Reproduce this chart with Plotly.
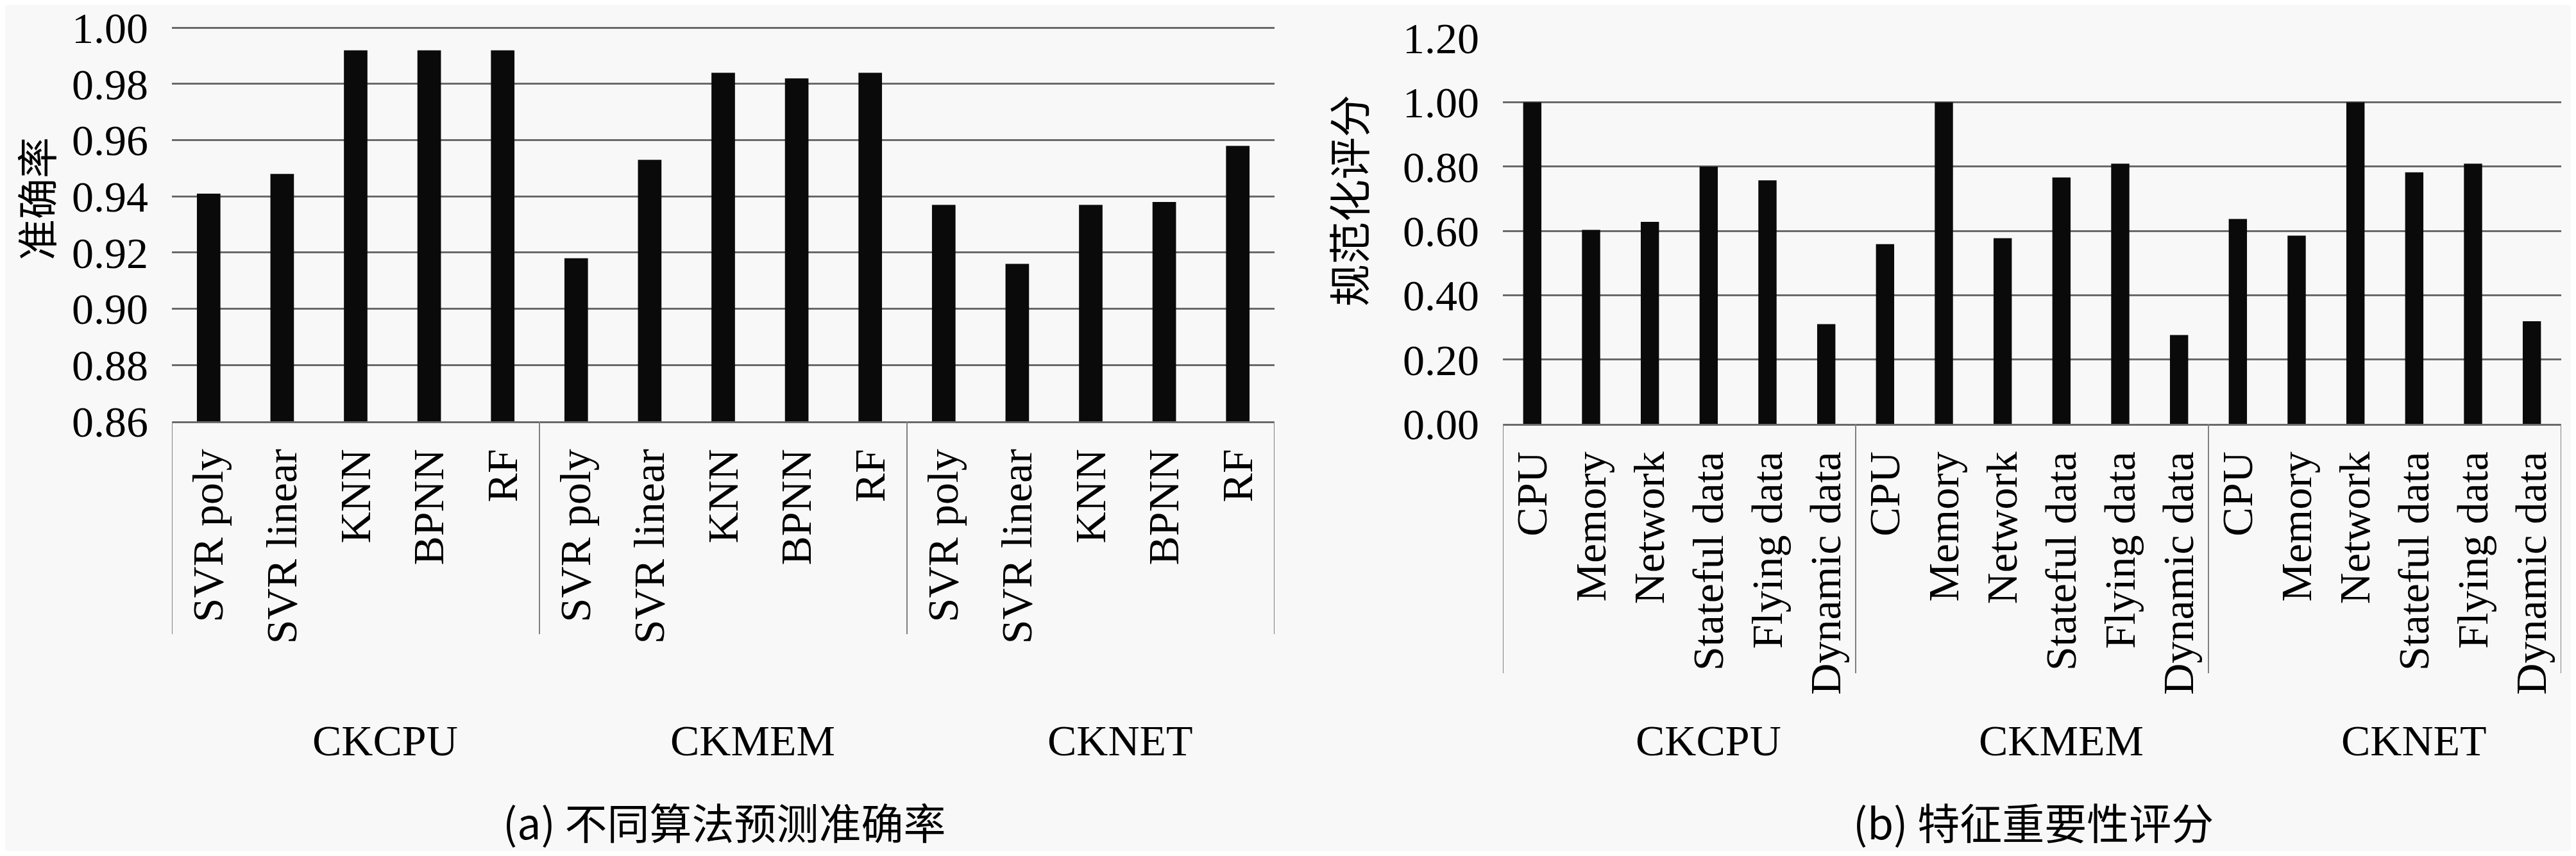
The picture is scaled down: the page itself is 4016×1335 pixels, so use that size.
import plotly.graph_objects as go

# (a) prediction accuracy per algorithm, grouped by checkpoint type
groups = ["CKCPU", "CKMEM", "CKNET"]
algorithms = ["SVR poly", "SVR linear", "KNN", "BPNN", "RF"]
acc_ckcpu = [0.941, 0.948, 0.992, 0.992, 0.992]
acc_ckmem = [0.918, 0.953, 0.984, 0.982, 0.984]
acc_cknet = [0.937, 0.916, 0.937, 0.938, 0.958]

# (b) normalized feature importance scores
features = ["CPU", "Memory", "Network", "Stateful data", "Flying data", "Dynamic data"]
imp_ckcpu = [1.00, 0.603, 0.628, 0.800, 0.757, 0.310]
imp_ckmem = [0.559, 1.00, 0.577, 0.766, 0.809, 0.276]
imp_cknet = [0.637, 0.585, 1.00, 0.782, 0.809, 0.319]

acc_ticks = [0.86, 0.88, 0.90, 0.92, 0.94, 0.96, 0.98, 1.00]
imp_ticks = [0.0, 0.2, 0.4, 0.6, 0.8, 1.0, 1.2]

BG = "#f8f8f8"
GRID = "#6a6a6a"
LATIN = "Liberation Serif, Noto Sans CJK SC, serif"
CJK = "Noto Sans CJK SC, Liberation Serif, sans-serif"
FS = 68

# page body has an 8px margin, so the figure is a bit smaller than the window
W, H, OFF = 4000, 1319, 8


def px(x):
    return (x - OFF) / W


def py(y):
    return 1 - (y - OFF) / H


acc_values = acc_ckcpu + acc_ckmem + acc_cknet
acc_labels = algorithms * len(groups)
imp_values = imp_ckcpu + imp_ckmem + imp_cknet
imp_labels = features * len(groups)

fig = go.Figure()
fig.add_trace(go.Bar(
    x=list(range(len(acc_values))), y=acc_values, width=0.32,
    marker={"color": "#0a0a0a", "line": {"width": 0}},
    xaxis="x", yaxis="y", showlegend=False,
))
fig.add_trace(go.Bar(
    x=list(range(len(imp_values))), y=imp_values, width=0.31,
    marker={"color": "#0a0a0a", "line": {"width": 0}},
    xaxis="x2", yaxis="y2", showlegend=False,
))

xcommon = dict(
    tickangle=-90, showgrid=False, zeroline=False, automargin=False,
    showline=True, linecolor=GRID, linewidth=3,
    ticks="", ticklabelstandoff=13, ticklabeloverflow="allow",
    tickfont={"family": LATIN, "size": FS, "color": "black"},
)
ycommon = dict(
    showgrid=True, gridcolor=GRID, gridwidth=3, zeroline=False,
    automargin=False, showline=False, ticks="", ticklabelstandoff=36,
    ticklabeloverflow="allow",
    tickfont={"family": LATIN, "size": FS, "color": "black"},
)

fig.update_layout(
    width=W, height=H,
    margin={"l": 0, "r": 0, "t": 0, "b": 0, "autoexpand": False},
    paper_bgcolor=BG, plot_bgcolor=BG,
    xaxis=dict(xcommon, domain=[px(268), px(1987)], anchor="y",
               range=[-0.5, len(acc_values) - 0.5],
               tickvals=list(range(len(acc_values))), ticktext=acc_labels),
    yaxis=dict(ycommon, domain=[py(657), py(42)], anchor="x",
               range=[0.86, 1.0003], tickvals=acc_ticks,
               ticktext=[f"{v:.2f}" for v in acc_ticks]),
    xaxis2=dict(xcommon, domain=[px(2343), px(3993)], anchor="y2",
                range=[-0.5, len(imp_values) - 0.5],
                tickvals=list(range(len(imp_values))), ticktext=imp_labels),
    yaxis2=dict(ycommon, domain=[py(661), py(59)], anchor="x2",
                range=[0, 1.2003], tickvals=imp_ticks,
                ticktext=[f"{v:.2f}" for v in imp_ticks]),
)

# group separators below each x axis
for xname, yname, n, bottom in (("x", "yaxis", len(algorithms), py(989)),
                                ("x2", "yaxis2", len(features), py(1050))):
    ytop = fig.layout[yname].domain[0]
    for k in range(len(groups) + 1):
        fig.add_shape(type="line", xref=xname, yref="paper",
                      x0=k * n - 0.5, x1=k * n - 0.5, y0=ytop, y1=bottom,
                      line={"color": "#808080", "width": 2})

# group names
for k, g in enumerate(groups):
    fig.add_annotation(x=k * len(algorithms) + 2.4, y=py(1155),
                       xref="x", yref="paper", text=g, showarrow=False,
                       xanchor="center", yanchor="middle",
                       font={"family": LATIN, "size": FS, "color": "black"})
    fig.add_annotation(x=k * len(features) + 3.0, y=py(1155),
                       xref="x2", yref="paper", text=g, showarrow=False,
                       xanchor="center", yanchor="middle",
                       font={"family": LATIN, "size": FS, "color": "black"})

# axis titles and captions
texts = [
    ("准确率", 54, 310, -90, 64),
    ("规范化评分", 2100, 313, -90, 66),
    ("(a) 不同算法预测准确率", 1129, 1280, 0, 66),
    ("(b) 特征重要性评分", 3170, 1280, 0, 66),
]
for text, x, y, angle, size in texts:
    fig.add_annotation(x=px(x), y=py(y), xref="paper", yref="paper",
                       text=text, textangle=angle, showarrow=False,
                       xanchor="center", yanchor="middle",
                       font={"family": CJK, "size": size, "color": "black"})

fig.write_html("out.html")
